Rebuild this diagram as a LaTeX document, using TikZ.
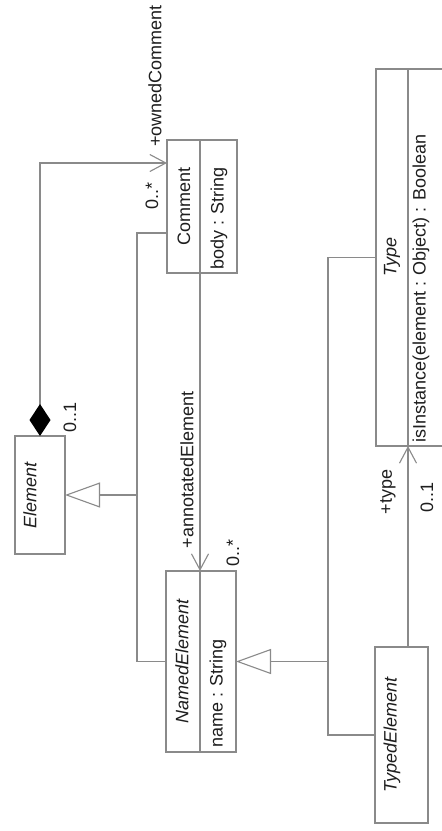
\documentclass[tikz,border=0pt]{standalone}
\usepackage{fontspec}
\setmainfont{Liberation Sans}
\usetikzlibrary{arrows.meta,calc}

\definecolor{linegray}{HTML}{8A8A8A}
\definecolor{inkgray}{HTML}{1E1E1E}

\tikzset{
  classbox/.style={draw=linegray, line width=1.1pt, fill=white, inner sep=0pt, outer sep=0pt},
  divider/.style={draw=linegray, line width=1.1pt},
  conn/.style={draw=linegray, line width=1.1pt},
  navarrow/.style={conn, -{Straight Barb[length=16pt,width=17pt,line width=1.1pt]}},
  genarrow/.style={conn, -{Triangle[length=35pt,width=25pt,fill=white,line width=1.1pt]}},
  composite/.style={conn, {Diamond[length=32pt,width=21pt,color=black,fill=black]}-{Straight Barb[length=16pt,width=17pt,line width=1.1pt]}},
  label/.style={text=inkgray, inner sep=0pt, rotate=90, font=\fontsize{18}{20}\selectfont},
  abstractname/.style={label, font=\fontsize{18}{20}\selectfont\itshape},
}

\begin{document}
\begin{tikzpicture}[x=1pt, y=-1pt]
  \useasboundingbox (0,0) rectangle (442,831);
  \fill[white] (0,0) rectangle (442,831);
  \clip (0,0) rectangle (442,831);

  % class boxes
  \node[classbox, minimum width=50pt, minimum height=118pt] (element) at (40,495) {};
  \node[classbox, minimum width=70pt, minimum height=133pt] (comment) at (202,206.5) {};
  \node[classbox, minimum width=70pt, minimum height=181pt] (named) at (201,661.5) {};
  \node[classbox, minimum width=76pt, minimum height=377pt] (type) at (414,257.5) {};
  \node[classbox, minimum width=53pt, minimum height=176pt] (typed) at (401.5,735) {};

  % compartment dividers
  \draw[divider] ([xshift=-2pt]comment.north) -- ([xshift=-2pt]comment.south);
  \draw[divider] ([xshift=-1pt]named.north) -- ([xshift=-1pt]named.south);
  \draw[divider] ([xshift=-6pt]type.north) -- ([xshift=-6pt]type.south);

  % class names and members
  \node[abstractname] (elementname) at (30,495) {Element};
  \node[label] (commentname) at (184,206) {Comment};
  \node[label, anchor=west] (commentbody) at (219,270) {body : String};
  \node[abstractname] (namedname) at (182,661) {NamedElement};
  \node[label, anchor=west] (namedattr) at (218,748) {name : String};
  \node[abstractname] (typename) at (392,257) {Type};
  \node[label, anchor=west] (typeop) at (421,443) {isInstance(element : Object) : Boolean};
  \node[abstractname] (typedname) at (392,735) {TypedElement};

  % generalization trees
  \coordinate (elemjoin) at (137,495);
  \draw[genarrow] ([yshift=40pt]comment.south west) -| (elemjoin) -- (element.east);
  \draw[conn] (named.west) -| (elemjoin);

  \coordinate (namedjoin) at (328,661.5);
  \draw[genarrow] (type.west) -| (namedjoin) -- (named.east);
  \draw[conn] (typed.west) -| (namedjoin);

  % associations
  \draw[composite] (element.north) |- ([yshift=-23pt]comment.north west);
  \draw[navarrow] ([xshift=-2pt]comment.south) -- ([xshift=-1pt]named.north);
  \draw[navarrow] ([xshift=6.5pt]typed.north) -- ([xshift=-6pt]type.south);

  % association end labels
  \node[label, anchor=west] (ownedrole) at (155,147) {+ownedComment};
  \node[label] (ownedmult) at (152,196) {0..*};
  \node[label] (ownermult) at (70,417) {0..1};
  \node[label] (annotrole) at (187,470) {+annotatedElement};
  \node[label] (annotmult) at (233,553) {0..*};
  \node[label] (typerole) at (388,492) {+type};
  \node[label] (typemult) at (427,497) {0..1};
\end{tikzpicture}
\end{document}
